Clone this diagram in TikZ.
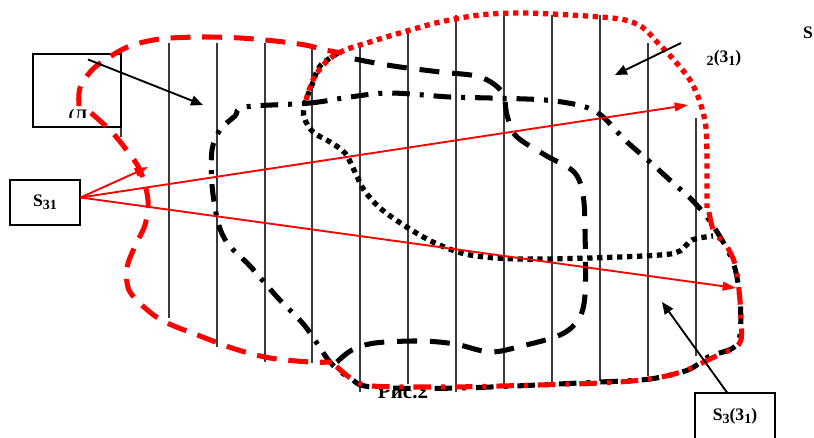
\documentclass[tikz,border=0pt]{standalone}
\usepackage{fontspec}
\setmainfont{Liberation Serif}
\usetikzlibrary{arrows.meta}
\definecolor{ink}{HTML}{000000}
\definecolor{hatchgray}{HTML}{3A3A3A}
\definecolor{pen}{HTML}{FF0000}
\newcommand\lowidx[1]{\raisebox{-0.4ex}{\fontsize{12}{14}\selectfont #1}}
\tikzset{
  font=\fontsize{15}{18}\selectfont\bfseries,
  %% nodes
  tag/.style        = {draw=ink, line width=1pt, fill=white, inner sep=0pt,
                       align=center},
  caption/.style    = {inner sep=0pt, anchor=base},
  %% hatching
  hatch/.style      = {draw=hatchgray, line width=0.9pt},
  %% region outlines
  reddash/.style    = {draw=pen, line width=4.3pt, dash pattern=on 17pt off 10pt},
  reddot/.style     = {draw=pen, line width=4.5pt, dash pattern=on 4.5pt off 4pt},
  reddashdot/.style = {draw=pen, line width=4.3pt,
                       dash pattern=on 15pt off 8.5pt on 3.4pt off 8.5pt},
  blkdash/.style    = {draw=ink, line width=4.3pt, dash pattern=on 17pt off 11pt},
  blkdot/.style     = {draw=ink, line width=4.5pt, dash pattern=on 4.5pt off 4pt},
  blkdashdot/.style = {draw=ink, line width=4.3pt,
                       dash pattern=on 15pt off 8.5pt on 3.4pt off 8.5pt},
  %% arrows
  pointer/.style    = {-{Triangle[length=3.6mm, width=3mm]}, draw=ink, line width=1.6pt},
  ray/.style        = {-{Triangle[length=4mm, width=2.6mm]}, draw=pen, line width=1.6pt},
}

\begin{document}
\begin{tikzpicture}[x=0.3mm, y=-0.3mm]
\useasboundingbox (0,0) rectangle (814,438);

%% hatching of the union
\foreach \x/\top/\bot in {121/55/137, 169/43/318, 217/43/347, 265/43/362,
    312/45/363, 360/46/392, 408/30/384, 456/15/392, 504/13/386,
    552/15/383, 600/15/381, 648/43/376, 696/118/356}
  \draw[hatch] (\x,\top) -- (\x,\bot);

%% label box, top left
\node[tag, fill=none, minimum width=26.4mm, minimum height=21.9mm] (s1box) at (77,90.5) {};
\begin{scope}
  \clip (40,100) rectangle (115,117);
  \node[caption] (s1txt) at (78,121) {(Л};
\end{scope}

%% S1 region (dash-dot)
\draw[blkdashdot] plot[smooth cycle, tension=0.55] coordinates {
  (245,107) (310,103) (350,97) (390,93) (450,97) (490,98) (545,100)
  (582,106) (602,116) (625,140) (650,162) (672,182) (692,200) (712,224)
  (733,262) (740,300) (740,335) (733,348) (708,357) (688,370) (650,379)
  (600,382) (460,388) (372,387) (350,378) (330,362) (305,326) (278,298)
  (250,266) (228,244) (218,222) (212,185) (212,150) (220,130) (235,116)};

%% dashed region
\draw[blkdash] plot[smooth, tension=0.55] coordinates {
  (337,362) (352,350) (375,343) (420,341) (455,344) (490,352) (522,346)
  (560,335) (578,320) (585,295) (585,230) (583,195) (574,172) (545,155)
  (516,136) (507,115) (502,92) (480,77) (440,72) (400,67) (370,62) (350,58)};

%% S2 region (dotted)
\draw[blkdot] plot[smooth, tension=0.55] coordinates {
  (338,53) (320,66) (312,85) (305,103) (304,117) (313,132) (330,142)
  (345,153) (355,172) (364,190) (380,208) (405,226) (435,243) (470,255)
  (520,259) (590,258) (660,255) (680,251) (692,240) (713,236)};

%% red outline of the union
\draw[reddash] plot[smooth, tension=0.55] coordinates {
  (79,106) (80,88) (92,70) (108,58) (130,46) (160,39) (200,37) (240,38)
  (275,41) (305,45) (325,50) (342,53)};
\draw[reddash] plot[smooth, tension=0.55] coordinates {
  (91,113) (110,130) (125,148) (140,170) (148,200) (145,225) (135,246)
  (127,268) (129,290) (145,308) (165,322) (200,336) (235,349) (270,358)
  (310,362) (332,362)};
\draw[reddot] plot[smooth, tension=0.55] coordinates {
  (306,100) (314,78) (328,60) (345,50) (370,42) (400,33) (440,22)
  (480,15) (520,13) (570,15) (620,19) (642,27) (657,42) (674,60)
  (690,80) (700,102) (706,128) (707,165) (707,208)};
\draw[reddashdot] plot[smooth, tension=0.55] coordinates {
  (709,212) (714,232) (726,245) (735,264) (739,290) (741,320) (739,344)
  (712,358) (684,371) (650,379) (600,383) (500,386) (440,387) (372,386)
  (352,379) (336,366)};

%% S31 box and rays
\node[tag, minimum width=21mm, minimum height=13.5mm] (s31) at (45,202.5)
  {S\lowidx{31}};
\coordinate (hitA) at (148,167);
\coordinate (hitB) at (688,105);
\coordinate (hitC) at (736,288);
\draw[ray] (s31.east) ++(0,-5) coordinate (rayfoot) -- (hitA);
\draw[ray] (rayfoot) -- (hitB);
\draw[ray] (rayfoot) -- (hitC);

%% pointers
\coordinate (s1tip) at (203,105);
\draw[pointer] (s1box.center) ++(11,-31) coordinate (s1foot) -- (s1tip);
\node[caption] (s2txt) at (724,62) {\lowidx{2}(3\lowidx{1})};
\node[caption] (stxt) at (808,38) {S};
\coordinate (s2foot) at (681,43);
\coordinate (s2tip) at (615,75);
\draw[pointer] (s2foot) -- (s2tip);
\node[tag, minimum width=24mm, minimum height=14.1mm] (s3) at (735,416.5)
  {S\lowidx{3}(3\lowidx{1})};
\coordinate (s3tip) at (662,302);
\draw[pointer] (s3.north) ++(-8,0) coordinate (s3foot) -- (s3tip);

%% caption, partly hidden
\begin{scope}
  \clip (340,390) rectangle (470,405);
  \node[caption, font=\fontsize{18}{20}\selectfont\bfseries] (fig) at (403,398) {Рис.2};
\end{scope}

\end{tikzpicture}
\end{document}
